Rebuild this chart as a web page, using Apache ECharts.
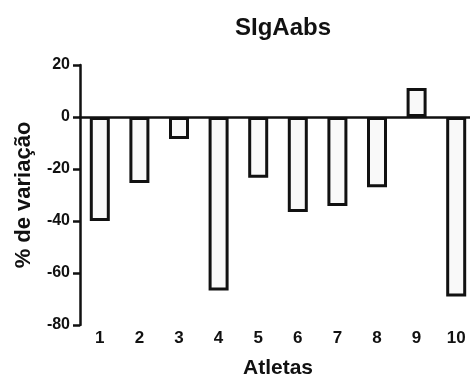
<!DOCTYPE html>
<html><head><meta charset="utf-8">
<script src="https://cdn.jsdelivr.net/npm/echarts@6/dist/echarts.min.js"></script>
<style>html,body{margin:0;padding:0;background:#fff}#c{width:470px;height:378px}</style>
</head><body><div id="c"></div>
<script>
const categories = ['1','2','3','4','5','6','7','8','9','10'];
const values = [-40, -25.4, -8.5, -66.7, -23.4, -36.5, -34.2, -27, 11.2, -69];
const yTicks = {min: -80, max: 20, interval: 20};
const titleText = 'SIgAabs';
const xName = 'Atletas';
const yName = '% de variação';

const font = 'Liberation Sans, Arial, sans-serif';
const ink = '#111';
const chart = echarts.init(document.getElementById('c'), null, {renderer: 'canvas'});
chart.setOption({
  animation: false,
  backgroundColor: '#fff',
  title: {text: titleText, left: 278, top: 11, textAlign: 'center',
    textStyle: {fontFamily: font, fontWeight: 'bold', fontSize: 24, color: ink}},
  grid: {left: 80, top: 65, width: 396, height: 260, containLabel: false, outerBoundsMode: 'none'},
  xAxis: [{
    type: 'category', data: categories, position: 'bottom',
    axisLine: {show: false, onZero: false}, axisTick: {show: false},
    axisLabel: {margin: 5, fontFamily: font, fontWeight: 'bold', fontSize: 17, color: ink},
    name: xName, nameLocation: 'middle', nameGap: 33,
    nameTextStyle: {fontFamily: font, fontWeight: 'bold', fontSize: 21, color: ink}
  }, {
    type: 'category', data: categories, position: 'bottom',
    axisLine: {show: true, onZero: true, lineStyle: {color: ink, width: 2.5}},
    axisTick: {show: false}, axisLabel: {show: false}
  }],
  yAxis: {
    type: 'value', min: yTicks.min, max: yTicks.max, interval: yTicks.interval,
    splitLine: {show: false},
    axisLine: {show: true, onZero: false, lineStyle: {color: ink, width: 2.5}},
    axisTick: {show: true, length: 7, lineStyle: {color: ink, width: 2.5}},
    axisLabel: {margin: 10, fontFamily: font, fontWeight: 'bold', fontSize: 16, color: ink},
    name: yName, nameLocation: 'middle', nameGap: 45, nameRotate: 90,
    nameTextStyle: {fontFamily: font, fontWeight: 'bold', fontSize: 22, color: ink}
  },
  series: [{
    type: 'bar', data: values, barWidth: 20, xAxisIndex: 0,
    itemStyle: {color: '#f9f9f9', borderColor: ink, borderWidth: 3}
  }]
});
</script></body></html>
